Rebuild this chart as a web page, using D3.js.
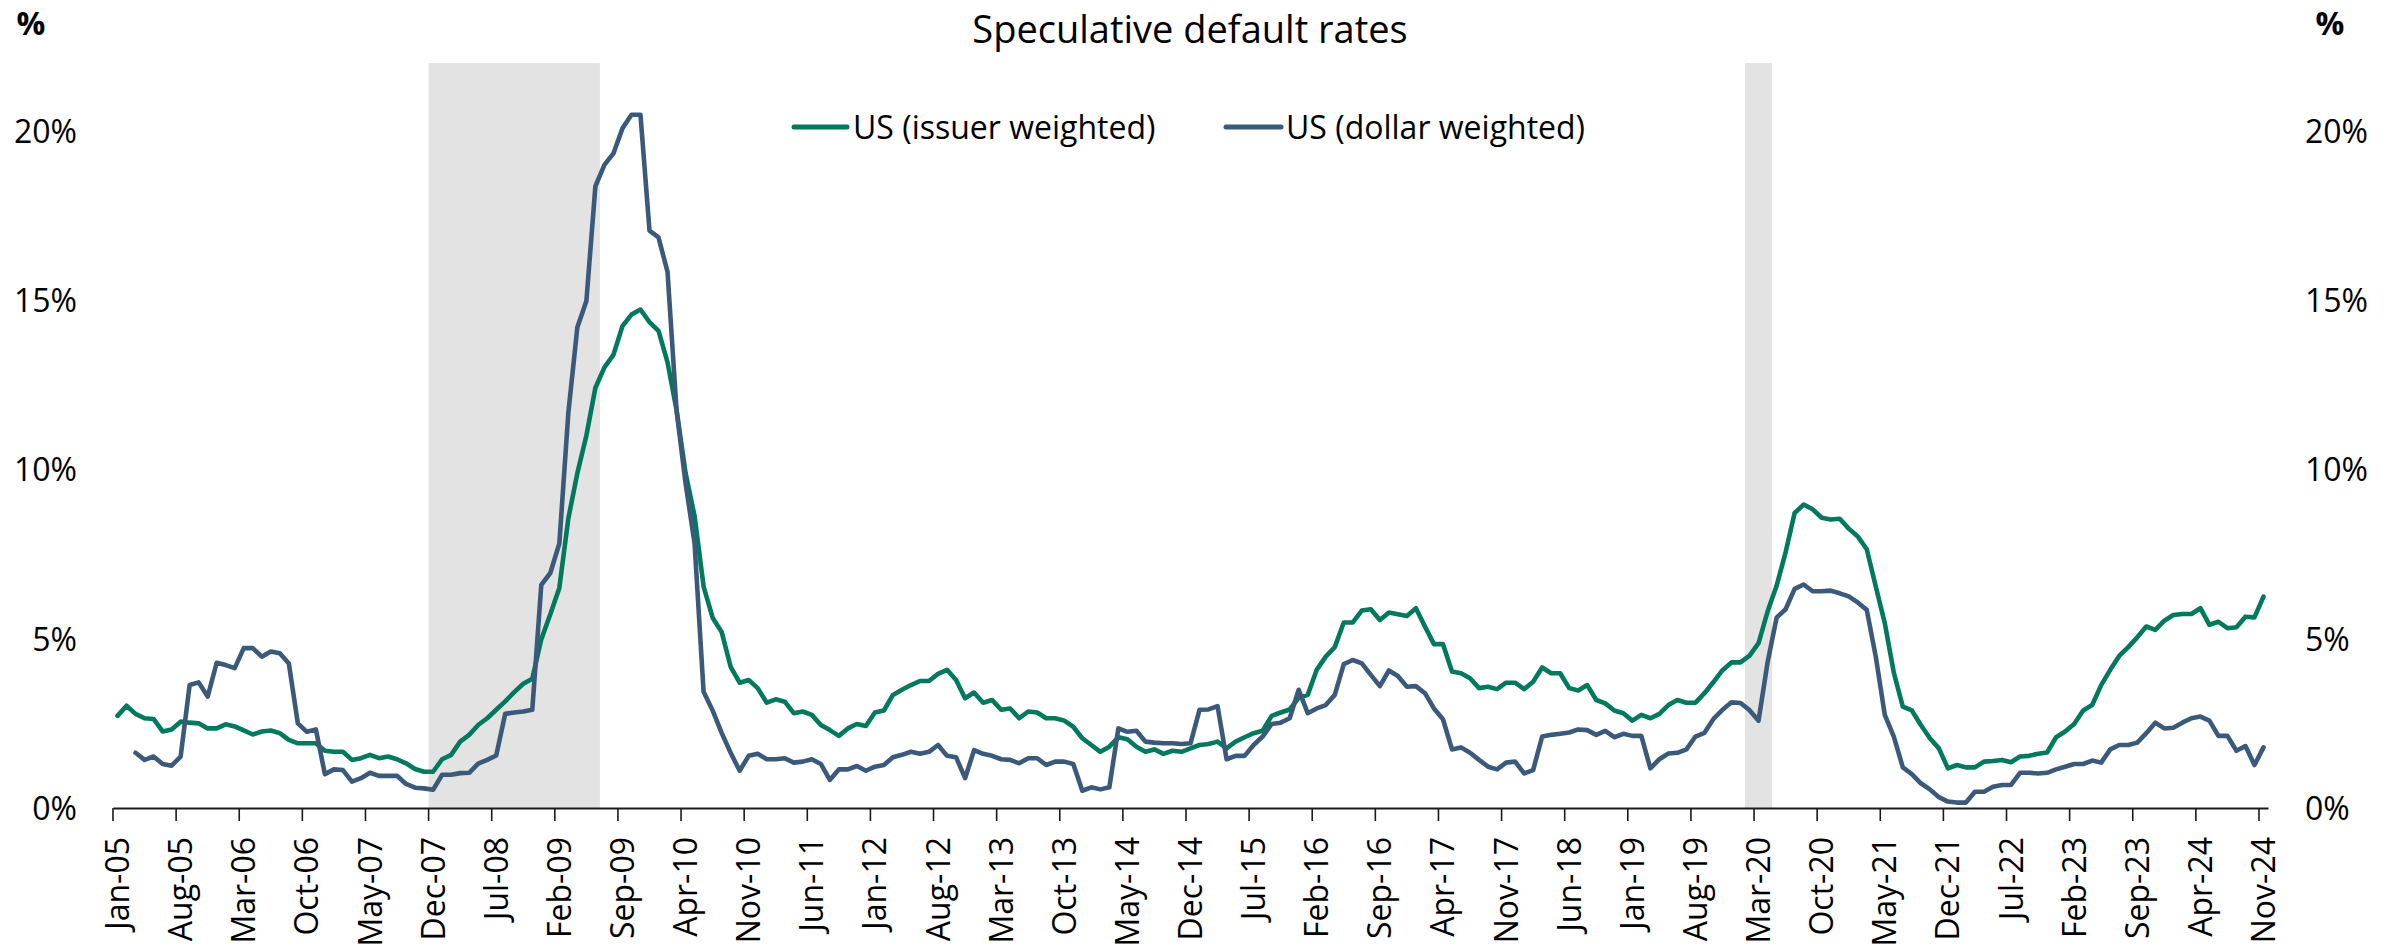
<!DOCTYPE html>
<html><head><meta charset="utf-8">
<script src="https://cdn.jsdelivr.net/npm/d3@7"></script>
<style>
html,body{margin:0;padding:0;background:#fff;}
svg{display:block;font-family:"Open Sans","Noto Sans",sans-serif;}
</style></head><body>
<svg id="chart" width="2400" height="951"></svg>
<script>
const chartTitle = "Speculative default rates";
const seriesNames = ["US (issuer weighted)", "US (dollar weighted)"];
const firstMonth = "2005-01";
const lastMonth = "2024-11";
const tickEvery = 7;
const yTicks = [0, 5, 10, 15, 20];
const recessions = [["2007-12", "2009-06"], ["2020-02", "2020-04"]];

const issuerWeighted = [
2.72,3.02,2.78,2.65,2.63,2.26,2.32,2.55,2.52,2.50,2.35,2.35,2.47,2.41,2.29,2.17,2.26,2.29,2.21,2.01,
1.91,1.91,1.91,1.69,1.66,1.66,1.42,1.47,1.57,1.47,1.52,1.44,1.32,1.15,1.07,1.07,1.44,1.57,1.96,2.16,
2.45,2.65,2.90,3.15,3.42,3.67,3.82,4.98,5.72,6.50,8.55,9.89,11.00,12.41,13.01,13.38,14.23,14.57,14.72,14.35,
14.09,13.16,11.75,9.89,8.62,6.54,5.62,5.20,4.17,3.70,3.78,3.54,3.11,3.21,3.14,2.80,2.85,2.75,2.45,2.30,
2.13,2.35,2.48,2.42,2.82,2.88,3.34,3.49,3.63,3.75,3.75,3.96,4.08,3.78,3.24,3.41,3.11,3.19,2.90,2.94,
2.65,2.85,2.82,2.65,2.65,2.58,2.40,2.06,1.86,1.66,1.81,2.09,2.03,1.81,1.66,1.73,1.60,1.69,1.66,1.76,
1.86,1.89,1.96,1.76,1.96,2.09,2.21,2.28,2.72,2.82,2.91,3.25,3.34,4.08,4.47,4.75,5.48,5.48,5.83,5.87,
5.55,5.77,5.72,5.67,5.90,5.36,4.84,4.84,4.03,3.98,3.83,3.54,3.58,3.51,3.70,3.70,3.51,3.73,4.15,3.98,
3.98,3.54,3.47,3.63,3.19,3.09,2.88,2.80,2.58,2.75,2.65,2.78,3.04,3.19,3.11,3.11,3.39,3.72,4.07,4.30,
4.30,4.50,4.87,5.80,6.56,7.55,8.71,8.96,8.82,8.57,8.52,8.54,8.25,8.02,7.64,6.54,5.46,4.00,2.99,2.88,
2.45,2.06,1.76,1.17,1.27,1.20,1.20,1.37,1.39,1.42,1.35,1.52,1.54,1.60,1.64,2.09,2.26,2.48,2.88,3.04,
3.63,4.08,4.49,4.75,5.04,5.36,5.26,5.53,5.70,5.73,5.73,5.90,5.41,5.50,5.31,5.34,5.65,5.63,6.24
];

const dollarWeighted = [
null,null,1.63,1.42,1.52,1.30,1.25,1.52,3.63,3.71,3.29,4.29,4.22,4.13,4.72,4.72,4.47,4.62,4.57,4.27,
2.50,2.25,2.32,1.00,1.14,1.12,0.78,0.88,1.04,0.95,0.95,0.95,0.71,0.60,0.58,0.54,0.98,0.98,1.03,1.04,
1.31,1.42,1.55,2.78,2.82,2.85,2.90,6.59,6.94,7.81,11.67,14.20,14.97,18.36,18.99,19.33,20.07,20.47,20.47,17.05,
16.85,15.83,11.75,9.59,7.81,3.43,2.88,2.22,1.63,1.10,1.54,1.60,1.44,1.44,1.47,1.34,1.37,1.44,1.30,0.83,
1.14,1.14,1.24,1.10,1.22,1.27,1.50,1.57,1.66,1.60,1.66,1.86,1.54,1.50,0.88,1.71,1.60,1.54,1.44,1.42,
1.32,1.47,1.47,1.27,1.37,1.37,1.30,0.51,0.61,0.55,0.61,2.35,2.25,2.28,1.96,1.93,1.91,1.91,1.89,1.91,
2.90,2.91,3.01,1.44,1.54,1.54,1.86,2.11,2.48,2.52,2.65,3.49,2.80,2.94,3.04,3.34,4.25,4.37,4.27,3.93,
3.60,4.06,3.90,3.58,3.60,3.39,2.94,2.62,1.73,1.79,1.63,1.42,1.22,1.14,1.34,1.37,1.02,1.12,2.11,2.16,
2.19,2.23,2.32,2.30,2.16,2.28,2.09,2.19,2.13,2.13,1.17,1.44,1.61,1.63,1.73,2.11,2.22,2.63,2.90,3.12,
3.10,2.89,2.58,4.30,5.62,5.87,6.47,6.60,6.40,6.40,6.42,6.34,6.25,6.07,5.85,4.47,2.75,2.11,1.20,1.00,
0.73,0.55,0.32,0.19,0.16,0.16,0.48,0.48,0.63,0.68,0.68,1.04,1.04,1.02,1.04,1.14,1.22,1.30,1.30,1.40,
1.34,1.73,1.86,1.86,1.93,2.21,2.52,2.35,2.37,2.52,2.65,2.70,2.58,2.13,2.13,1.69,1.83,1.27,1.79
];

const colors = ["#00795c", "#3b5a7b"];

const parse = d3.timeParse("%Y-%m");
const fmt = d3.timeFormat("%b-%y");
const months = d3.timeMonth.range(parse(firstMonth), d3.timeMonth.offset(parse(lastMonth), 1)).map(fmt);

const svg = d3.select("#chart");
const x = d3.scaleBand().domain(months).range([113, 2268]).padding(0);
const bw = x.bandwidth();
const y = d3.scaleLinear().domain([0, 22]).range([808, 63]);
const cx = m => x(m) + bw / 2;

// recession shading
svg.append("g").selectAll("rect").data(recessions).join("rect")
  .attr("x", d => x(fmt(parse(d[0]))))
  .attr("width", d => x(fmt(parse(d[1]))) + bw - x(fmt(parse(d[0]))))
  .attr("y", y(22)).attr("height", y(0) - y(22))
  .attr("fill", "#e3e3e3");

// x axis
const xAxis = d3.axisBottom(x)
  .tickValues(months.filter((m, i) => i % tickEvery === 0))
  .tickSize(13).tickSizeOuter(0);
const gx = svg.append("g").attr("transform", `translate(0,${y(0)})`).call(xAxis);
gx.select(".domain").attr("stroke", "#1a1a1a").attr("stroke-width", 2);
gx.selectAll(".tick line").attr("x1", -bw / 2).attr("x2", -bw / 2)
  .attr("stroke", "#1a1a1a").attr("stroke-width", 1.6);
gx.selectAll(".tick text")
  .attr("transform", "rotate(-90)")
  .attr("x", -29).attr("y", 0).attr("dy", "0.36em")
  .attr("text-anchor", "end")
  .attr("font-size", 32).attr("fill", "#000")
  .style("font-family", '"Open Sans","Noto Sans",sans-serif');
gx.attr("font-family", null).attr("font-size", null);

// y axes (labels only)
const yl = svg.append("g").attr("transform", "translate(77,0)")
  .call(d3.axisLeft(y).tickValues(yTicks).tickFormat(d => d + "%").tickSize(0).tickPadding(0));
const yr = svg.append("g").attr("transform", "translate(2305,0)")
  .call(d3.axisRight(y).tickValues(yTicks).tickFormat(d => d + "%").tickSize(0).tickPadding(0));
[yl, yr].forEach(g => {
  g.select(".domain").remove();
  g.attr("font-family", null).attr("font-size", null);
  g.selectAll("text").attr("font-size", 32).attr("fill", "#000").attr("dy", "0.36em");
});

// lines
const line = d3.line()
  .defined(d => d != null)
  .x((d, i) => cx(months[i]))
  .y(d => y(d));
[issuerWeighted, dollarWeighted].forEach((s, k) => {
  svg.append("path").datum(s)
    .attr("d", line)
    .attr("fill", "none")
    .attr("stroke", colors[k])
    .attr("stroke-width", 4.6)
    .attr("stroke-linejoin", "round")
    .attr("stroke-linecap", "round");
});

// title
svg.append("text").attr("x", 1190).attr("y", 43)
  .attr("text-anchor", "middle").attr("font-size", 38).attr("fill", "#000")
  .text(chartTitle);

// unit labels
svg.append("text").attr("x", 31).attr("y", 35).attr("text-anchor", "middle")
  .attr("font-size", 32).attr("font-weight", "bold").attr("fill", "#000").text("%");
svg.append("text").attr("x", 2330).attr("y", 35).attr("text-anchor", "middle")
  .attr("font-size", 32).attr("font-weight", "bold").attr("fill", "#000").text("%");

// legend
const legendPos = [{x1: 794, x2: 847, tx: 853}, {x1: 1226, x2: 1281, tx: 1286}];
const lg = svg.append("g");
seriesNames.forEach((n, k) => {
  const p = legendPos[k];
  lg.append("line").attr("x1", p.x1).attr("x2", p.x2).attr("y1", 127).attr("y2", 127)
    .attr("stroke", colors[k]).attr("stroke-width", 5).attr("stroke-linecap", "round");
  lg.append("text").attr("x", p.tx).attr("y", 127).attr("dy", "0.36em")
    .attr("font-size", 32).attr("fill", "#000").text(n);
});
</script>
</body></html>
